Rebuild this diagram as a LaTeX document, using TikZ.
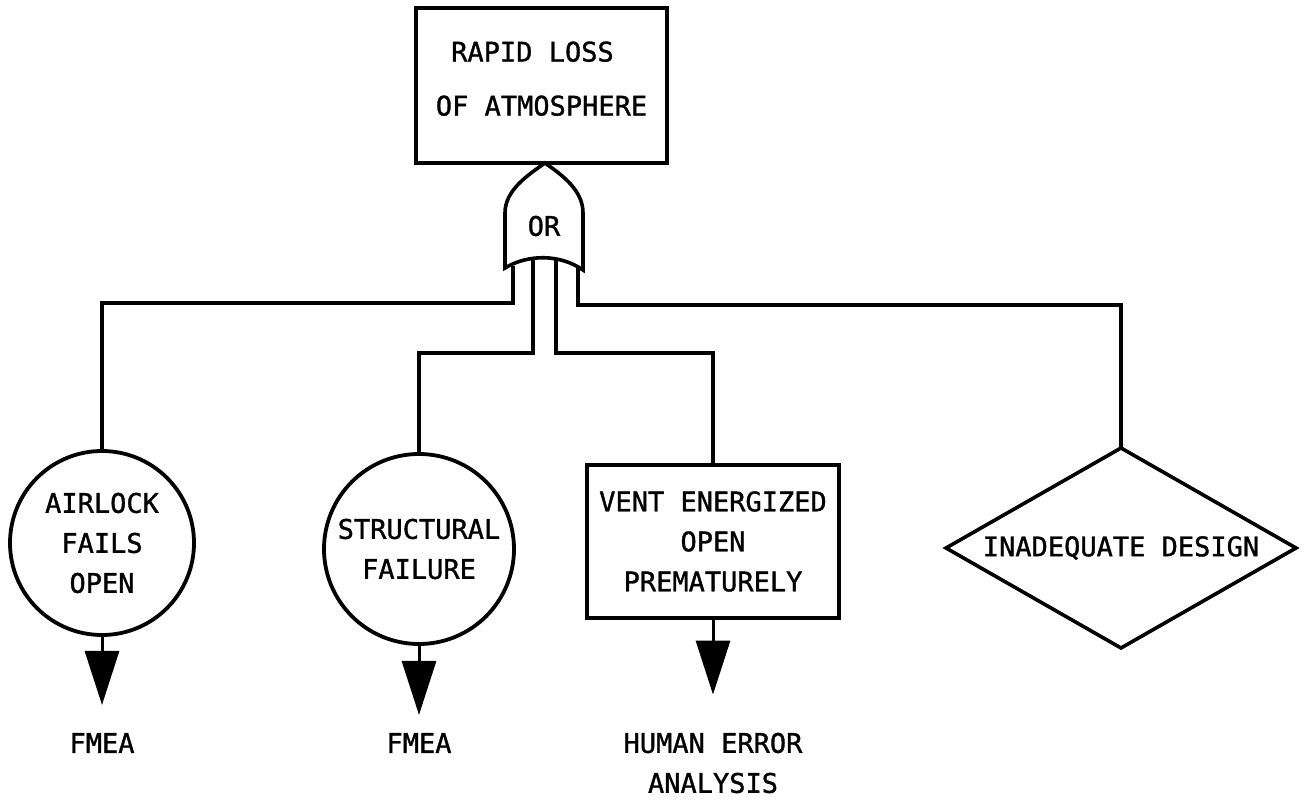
\documentclass[tikz,border=0pt]{standalone}
\usepackage{fontspec}
\newfontfamily\lettering[FakeBold=1.2]{DejaVu Sans Mono}
\usepackage{tikz}
\usetikzlibrary{arrows.meta,shapes.geometric}
\tikzset{
	ln/.style={draw=black,line width=3.6pt},
	evbox/.style={rectangle,draw=black,line width=3.8pt,fill=white,inner sep=0pt,align=center},
	basic/.style={circle,draw=black,line width=3.8pt,fill=white,inner sep=0pt,align=center},
	undev/.style={diamond,draw=black,line width=3.6pt,fill=white,inner sep=0pt,outer sep=0pt,aspect=1.75},
	lbl/.style={inner sep=0pt,align=center},
	feed/.style={-{Triangle[length=54pt,width=34pt]},draw=black,line width=3pt}
}

\begin{document}
\begin{tikzpicture}[x=1pt,y=-1pt,font=\lettering\fontsize{27}{40}\selectfont]
	\fill[white] (0,0) rectangle (1304,802);
	\useasboundingbox (0,0) rectangle (1304,802);
	\node[evbox,minimum width=251pt,minimum height=155pt] (top) at (541.5,85.5)
		{RAPID LOSS\hspace*{18pt}\\[14pt]OF ATMOSPHERE\\[-26pt]};
	\draw[ln,fill=white] (505,268) -- (505,213) .. controls (505,190) and (528,175) .. (545,163)
		.. controls (562,175) and (583,190) .. (583,213) -- (583,270)
		.. controls (560,254) and (528,254) .. (505,268) -- cycle;
	\node[lbl] (gate) at (544,226) {OR};
	\coordinate (l1) at (513,266);
	\coordinate (l2) at (533,259);
	\coordinate (l3) at (556,259);
	\coordinate (l4) at (578,268);
	\node[basic,minimum size=184pt] (air) at (102,543) {AIRLOCK\\FAILS\\OPEN};
	\node[basic,minimum size=190pt] (str) at (419,549) {STRUCTURAL\\FAILURE};
	\node[evbox,minimum width=252pt,minimum height=153pt] (vent) at (713,541.5)
		{VENT ENERGIZED\\OPEN\hspace*{26pt}\\PREMATURELY};
	\node[undev,minimum width=350pt,minimum height=200pt] (des) at (1121,548) {INADEQUATE DESIGN};
	\node[lbl] (fm1) at (102,743) {FMEA};
	\node[lbl] (fm2) at (419,743) {FMEA};
	\node[lbl] (hea) at (713,763) {HUMAN ERROR\\ANALYSIS};
	\draw[ln] (l1) -- (l1 |- 0,303) -| (air.north);
	\draw[ln] (l2) -- (l2 |- 0,353) -| (str.north);
	\draw[ln] (l3) -- (l3 |- 0,353) -| (vent.north);
	\draw[ln] (l4) -- (l4 |- 0,305) -| (des.north);
	\draw[feed,shorten >=28pt] (air.south) -- (fm1.north);
	\draw[feed,shorten >=18pt] (str.south) -- (fm2.north);
	\draw[feed,shorten >=38pt] (vent.south) -- (hea.north);
\end{tikzpicture}
\end{document}
